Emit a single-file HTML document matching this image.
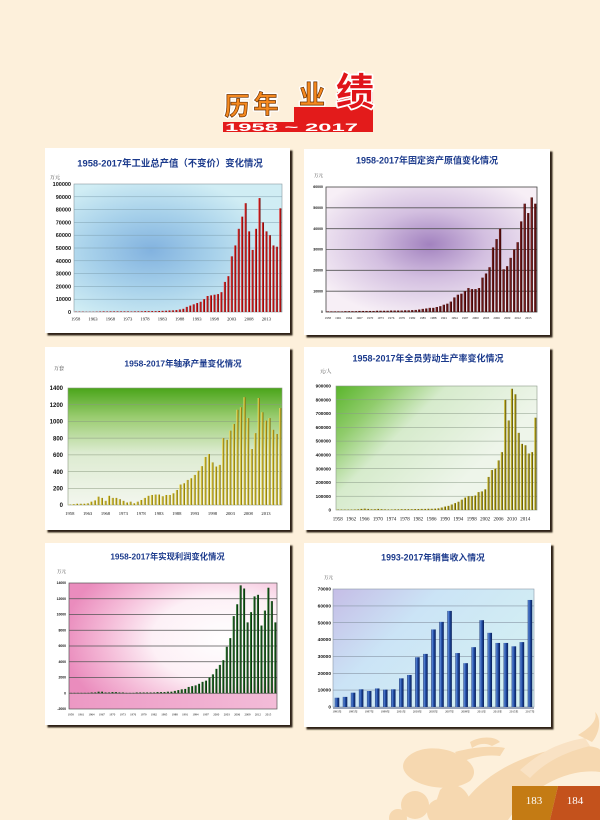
<!DOCTYPE html>
<html><head><meta charset="utf-8">
<style>
html,body{margin:0;padding:0;background:#fdf0db;}
svg{display:block;}
.t{font-family:"Liberation Sans","Noto Sans CJK SC",sans-serif;font-weight:bold;fill:#1b3a8c;text-anchor:middle;}
.u{font-family:"Liberation Serif","Noto Serif CJK SC","Noto Sans CJK SC",serif;fill:#333;}
.y{font-family:"Liberation Sans",sans-serif;font-weight:bold;fill:#111;text-anchor:end;}
.x{font-family:"Liberation Serif",serif;fill:#111;text-anchor:middle;}
</style></head><body>
<svg width="600" height="820" viewBox="0 0 600 820" xmlns="http://www.w3.org/2000/svg">
<defs>
<filter id="sh" x="-5%" y="-5%" width="110%" height="110%"><feGaussianBlur stdDeviation="0.7"/></filter>
<radialGradient id="g1" cx="0.37" cy="0.52" r="0.58"><stop offset="0" stop-color="#82b2df"/><stop offset="0.5" stop-color="#a6d0ea"/><stop offset="1" stop-color="#d0edf4"/></radialGradient>
<radialGradient id="g2" cx="0.49" cy="0.46" r="0.6"><stop offset="0" stop-color="#a282bf"/><stop offset="0.45" stop-color="#d3bfe0"/><stop offset="1" stop-color="#f7eff6"/></radialGradient>
<linearGradient id="g3" x1="0" y1="0" x2="0" y2="1"><stop offset="0" stop-color="#4aa51a"/><stop offset="0.25" stop-color="#9acc70"/><stop offset="0.55" stop-color="#dcebd0"/><stop offset="1" stop-color="#f3f6ee"/></linearGradient>
<linearGradient id="g4" x1="0" y1="0" x2="0.8" y2="0.5"><stop offset="0" stop-color="#5ab52c"/><stop offset="0.25" stop-color="#90cc6c"/><stop offset="0.5" stop-color="#d6ebcc"/><stop offset="1" stop-color="#eef5ea"/></linearGradient>
<radialGradient id="g5" cx="0.75" cy="0.45" r="0.78"><stop offset="0" stop-color="#ffffff"/><stop offset="0.45" stop-color="#fdf0f6"/><stop offset="0.75" stop-color="#f4b8d6"/><stop offset="1" stop-color="#ea8cbd"/></radialGradient>
<linearGradient id="g5b" x1="0" y1="0" x2="1" y2="0"><stop offset="0" stop-color="#ec98c4"/><stop offset="1" stop-color="#f3bcd8"/></linearGradient>
<linearGradient id="g6" x1="0" y1="0" x2="1" y2="0.6"><stop offset="0" stop-color="#c5bde6"/><stop offset="0.4" stop-color="#cbe4f6"/><stop offset="1" stop-color="#d4f0f2"/></linearGradient>
<linearGradient id="bRed" x1="0" y1="0" x2="1" y2="0"><stop offset="0" stop-color="#e86060"/><stop offset="0.35" stop-color="#d02020"/><stop offset="0.7" stop-color="#a00c0c"/><stop offset="1" stop-color="#4a0000"/></linearGradient>
<linearGradient id="bMar" x1="0" y1="0" x2="1" y2="0"><stop offset="0" stop-color="#2a0000"/><stop offset="0.3" stop-color="#8a2a2a"/><stop offset="0.6" stop-color="#5a0a0a"/><stop offset="1" stop-color="#1a0000"/></linearGradient>
<linearGradient id="bYel" x1="0" y1="0" x2="1" y2="0"><stop offset="0" stop-color="#f4e880"/><stop offset="0.45" stop-color="#c8b428"/><stop offset="1" stop-color="#6a5a0a"/></linearGradient>
<linearGradient id="bOli" x1="0" y1="0" x2="1" y2="0"><stop offset="0" stop-color="#ded050"/><stop offset="0.45" stop-color="#a89818"/><stop offset="1" stop-color="#3a3206"/></linearGradient>
<linearGradient id="bGrn" x1="0" y1="0" x2="1" y2="0"><stop offset="0" stop-color="#4a9a4a"/><stop offset="0.45" stop-color="#14501a"/><stop offset="1" stop-color="#062006"/></linearGradient>
<linearGradient id="bBlu" x1="0" y1="0" x2="1" y2="0"><stop offset="0" stop-color="#0c2460"/><stop offset="0.2" stop-color="#5a88d8"/><stop offset="0.55" stop-color="#1e48a0"/><stop offset="1" stop-color="#0a1f55"/></linearGradient>
</defs>
<rect width="600" height="820" fill="#fdf0db"/>

<!-- dragon decoration -->
<g fill="#f6d8b0">
<path d="M455 820 C470 780 520 752 575 746 C590 745 600 748 600 750 L600 772 C570 768 532 785 508 820 Z"/>
<path d="M520 770 C540 752 560 742 585 738 L590 746 C565 752 545 762 530 778 Z" fill="#f9e2c4"/>
<path d="M405 760 C415 746 440 746 455 753 C470 760 480 770 470 781 C455 791 430 789 415 781 C405 775 400 768 405 760 Z"/>
<path d="M455 752 C470 748 490 745 505 748 L500 756 C485 754 470 758 462 762 Z"/>
<path d="M470 742 C480 736 495 736 500 742 L492 746 C485 742 478 744 472 748 Z"/>
<circle cx="415" cy="805" r="14"/><circle cx="440" cy="812" r="13"/><circle cx="398" cy="818" r="9"/>
<path d="M440 790 C450 780 465 785 470 800 C472 810 465 820 460 820 L430 820 Z"/>
<path d="M578 735 C590 728 598 720 595 712 C600 716 602 730 592 742 Z"/>
<path d="M540 795 C555 785 575 790 585 805 C590 812 588 820 585 820 L540 820 Z" fill="#f8dfbf"/>
</g>

<!-- title block -->
<path d="M223 132 L223 122 L294 122 L294 107 L337 107 L337 92 L373 92 L373 132 Z" fill="#e31b1b"/>
<text x="225" y="131" font-family="Liberation Sans, sans-serif" font-weight="bold" font-size="11" fill="#fff" textLength="133" lengthAdjust="spacingAndGlyphs">1958 ~ 2017</text>
<g font-family="Noto Sans CJK SC, sans-serif" font-weight="bold" text-anchor="middle">
<g stroke="#fff" stroke-width="3.5" fill="#fff" stroke-linejoin="round">
<text x="237" y="115" font-size="25">历</text><text x="266" y="113" font-size="25">年</text><text x="312" y="104" font-size="26">业</text><text x="355" y="105" font-size="38">绩</text>
</g>
<g stroke="#6b3000" stroke-width="0.7" fill="#f5891f">
<text x="237" y="115" font-size="25">历</text><text x="266" y="113" font-size="25">年</text><text x="312" y="104" font-size="26">业</text>
</g>
<text x="355" y="105" font-size="38" fill="#e0141a">绩</text>
</g>

<!-- panels -->
<g fill="#2e2016" filter="url(#sh)">
<rect x="47.5" y="150.5" width="245" height="185"/>
<rect x="306.5" y="151.5" width="246" height="186"/>
<rect x="47.5" y="349.5" width="245" height="183"/>
<rect x="306.5" y="349.5" width="246" height="183"/>
<rect x="47.5" y="545.5" width="245" height="182"/>
<rect x="306.5" y="545.5" width="247" height="184"/>
</g>
<g fill="#ffffff">
<rect x="45" y="148" width="245" height="185"/>
<rect x="304" y="149" width="246" height="186"/>
<rect x="45" y="347" width="245" height="183"/>
<rect x="304" y="347" width="246" height="183"/>
<rect x="45" y="543" width="245" height="182"/>
<rect x="304" y="543" width="247" height="184"/>
</g>

<!-- ============ CHART 1 ============ -->
<text class="t" x="170" y="166.5" font-size="9.4">1958-2017年工业总产值（不变价）变化情况</text>
<text class="u" x="50" y="179" font-size="5">万元</text>
<rect x="74" y="184" width="208" height="128" fill="url(#g1)" stroke="#8a9aa0" stroke-width="0.6"/>
<g stroke="#7fa0b0" stroke-width="0.5">
<line x1="74" x2="282" y1="196.8" y2="196.8"/><line x1="74" x2="282" y1="209.6" y2="209.6"/><line x1="74" x2="282" y1="222.4" y2="222.4"/><line x1="74" x2="282" y1="235.2" y2="235.2"/><line x1="74" x2="282" y1="248" y2="248"/><line x1="74" x2="282" y1="260.8" y2="260.8"/><line x1="74" x2="282" y1="273.6" y2="273.6"/><line x1="74" x2="282" y1="286.4" y2="286.4"/><line x1="74" x2="282" y1="299.2" y2="299.2"/>
</g>
<g class="y" font-size="5.5">
<text x="71" y="186">100000</text><text x="71" y="198.8">90000</text><text x="71" y="211.6">80000</text><text x="71" y="224.4">70000</text><text x="71" y="237.2">60000</text><text x="71" y="250">50000</text><text x="71" y="262.8">40000</text><text x="71" y="275.6">30000</text><text x="71" y="288.4">20000</text><text x="71" y="301.2">10000</text><text x="71" y="314">0</text>
</g>
<g class="x" font-size="4.6">
<text x="75.7" y="320.5">1958</text><text x="93" y="320.5">1963</text><text x="110.4" y="320.5">1968</text><text x="127.7" y="320.5">1973</text><text x="145" y="320.5">1978</text><text x="162.3" y="320.5">1983</text><text x="179.7" y="320.5">1988</text><text x="197" y="320.5">1993</text><text x="214.3" y="320.5">1998</text><text x="231.7" y="320.5">2003</text><text x="249" y="320.5">2008</text><text x="266.3" y="320.5">2013</text>
</g>
<g transform="translate(74,312) scale(3.4667,-1.28) translate(0.2,0)" fill="url(#bRed)">
<rect x="0" width=".6" height=".3"/><rect x="1" width=".6" height=".3"/><rect x="2" width=".6" height=".3"/><rect x="3" width=".6" height=".2"/><rect x="4" width=".6" height=".2"/><rect x="5" width=".6" height=".2"/><rect x="6" width=".6" height=".3"/><rect x="7" width=".6" height=".4"/><rect x="8" width=".6" height=".5"/><rect x="9" width=".6" height=".4"/>
<rect x="10" width=".6" height=".5"/><rect x="11" width=".6" height=".5"/><rect x="12" width=".6" height=".5"/><rect x="13" width=".6" height=".5"/><rect x="14" width=".6" height=".5"/><rect x="15" width=".6" height=".5"/><rect x="16" width=".6" height=".4"/><rect x="17" width=".6" height=".5"/><rect x="18" width=".6" height=".5"/><rect x="19" width=".6" height=".6"/>
<rect x="20" width=".6" height=".7"/><rect x="21" width=".6" height=".7"/><rect x="22" width=".6" height=".7"/><rect x="23" width=".6" height=".7"/><rect x="24" width=".6" height=".8"/><rect x="25" width=".6" height=".9"/><rect x="26" width=".6" height="1"/><rect x="27" width=".6" height="1.2"/><rect x="28" width=".6" height="1.3"/><rect x="29" width=".6" height="1.5"/>
<rect x="30" width=".6" height="2"/><rect x="31" width=".6" height="2.5"/><rect x="32" width=".6" height="4"/><rect x="33" width=".6" height="5"/><rect x="34" width=".6" height="6"/><rect x="35" width=".6" height="7"/><rect x="36" width=".6" height="8"/><rect x="37" width=".6" height="10"/><rect x="38" width=".6" height="12.5"/><rect x="39" width=".6" height="13"/>
<rect x="40" width=".6" height="13.5"/><rect x="41" width=".6" height="14"/><rect x="42" width=".6" height="15.5"/><rect x="43" width=".6" height="23.5"/><rect x="44" width=".6" height="28"/><rect x="45" width=".6" height="43.5"/><rect x="46" width=".6" height="52"/><rect x="47" width=".6" height="65"/><rect x="48" width=".6" height="74.5"/><rect x="49" width=".6" height="85"/>
<rect x="50" width=".6" height="63"/><rect x="51" width=".6" height="48.5"/><rect x="52" width=".6" height="65"/><rect x="53" width=".6" height="89"/><rect x="54" width=".6" height="70"/><rect x="55" width=".6" height="63"/><rect x="56" width=".6" height="60"/><rect x="57" width=".6" height="52"/><rect x="58" width=".6" height="51"/><rect x="59" width=".6" height="81"/>
</g>

<!-- ============ CHART 2 ============ -->
<text class="t" x="427" y="163.5" font-size="9">1958-2017年固定资产原值变化情况</text>
<text class="u" x="314" y="177" font-size="4.5">万元</text>
<rect x="326" y="187" width="211" height="125" fill="url(#g2)" stroke="#444" stroke-width="0.8"/>
<g stroke="#555" stroke-width="0.8">
<line x1="326" x2="537" y1="207.8" y2="207.8"/><line x1="326" x2="537" y1="228.7" y2="228.7"/><line x1="326" x2="537" y1="249.5" y2="249.5"/><line x1="326" x2="537" y1="270.3" y2="270.3"/><line x1="326" x2="537" y1="291.2" y2="291.2"/>
</g>
<g class="y" font-size="3.5">
<text x="323" y="188.2">60000</text><text x="323" y="209">50000</text><text x="323" y="229.9">40000</text><text x="323" y="250.7">30000</text><text x="323" y="271.5">20000</text><text x="323" y="292.4">10000</text><text x="323" y="313.2">0</text>
</g>
<g class="x" font-size="3.2">
<text x="327.8" y="319">1958</text><text x="338.3" y="319">1961</text><text x="348.9" y="319">1964</text><text x="359.4" y="319">1967</text><text x="370" y="319">1970</text><text x="380.5" y="319">1973</text><text x="391.1" y="319">1976</text><text x="401.7" y="319">1979</text><text x="412.2" y="319">1982</text><text x="422.8" y="319">1985</text><text x="433.3" y="319">1988</text><text x="443.8" y="319">1991</text><text x="454.4" y="319">1994</text><text x="465" y="319">1997</text><text x="475.5" y="319">2000</text><text x="486" y="319">2003</text><text x="496.6" y="319">2006</text><text x="507.2" y="319">2009</text><text x="517.7" y="319">2012</text><text x="528.3" y="319">2015</text>
</g>
<g transform="translate(326,312) scale(3.5167,-2.0833) translate(0.18,0)" fill="url(#bMar)">
<rect x="0" width=".64" height=".3"/><rect x="1" width=".64" height=".3"/><rect x="2" width=".64" height=".3"/><rect x="3" width=".64" height=".3"/><rect x="4" width=".64" height=".3"/><rect x="5" width=".64" height=".4"/><rect x="6" width=".64" height=".4"/><rect x="7" width=".64" height=".4"/><rect x="8" width=".64" height=".4"/><rect x="9" width=".64" height=".5"/>
<rect x="10" width=".64" height=".5"/><rect x="11" width=".64" height=".5"/><rect x="12" width=".64" height=".5"/><rect x="13" width=".64" height=".5"/><rect x="14" width=".64" height=".6"/><rect x="15" width=".64" height=".6"/><rect x="16" width=".64" height=".6"/><rect x="17" width=".64" height=".6"/><rect x="18" width=".64" height=".7"/><rect x="19" width=".64" height=".7"/>
<rect x="20" width=".64" height=".7"/><rect x="21" width=".64" height=".7"/><rect x="22" width=".64" height=".8"/><rect x="23" width=".64" height=".8"/><rect x="24" width=".64" height=".9"/><rect x="25" width=".64" height="1"/><rect x="26" width=".64" height="1.2"/><rect x="27" width=".64" height="1.5"/><rect x="28" width=".64" height="1.7"/><rect x="29" width=".64" height="2"/>
<rect x="30" width=".64" height="2"/><rect x="31" width=".64" height="2.4"/><rect x="32" width=".64" height="2.8"/><rect x="33" width=".64" height="3.5"/><rect x="34" width=".64" height="4"/><rect x="35" width=".64" height="5"/><rect x="36" width=".64" height="7"/><rect x="37" width=".64" height="8.3"/><rect x="38" width=".64" height="8.8"/><rect x="39" width=".64" height="10"/>
<rect x="40" width=".64" height="11.5"/><rect x="41" width=".64" height="11"/><rect x="42" width=".64" height="11"/><rect x="43" width=".64" height="11.5"/><rect x="44" width=".64" height="16.5"/><rect x="45" width=".64" height="18.5"/><rect x="46" width=".64" height="21.5"/><rect x="47" width=".64" height="31"/><rect x="48" width=".64" height="35"/><rect x="49" width=".64" height="40"/>
<rect x="50" width=".64" height="20.5"/><rect x="51" width=".64" height="22"/><rect x="52" width=".64" height="26"/><rect x="53" width=".64" height="30"/><rect x="54" width=".64" height="33.5"/><rect x="55" width=".64" height="43.5"/><rect x="56" width=".64" height="52"/><rect x="57" width=".64" height="47.5"/><rect x="58" width=".64" height="55"/><rect x="59" width=".64" height="52"/>
</g>

<!-- ============ CHART 3 ============ -->
<text class="t" x="183" y="366.5" font-size="8.5">1958-2017年轴承产量变化情况</text>
<text class="u" x="54" y="370" font-size="5">万套</text>
<rect x="68" y="388" width="214" height="117" fill="url(#g3)" stroke="#8a9a80" stroke-width="0.6"/>
<g stroke="#8a9a80" stroke-width="0.5">
<line x1="68" x2="282" y1="404.7" y2="404.7"/><line x1="68" x2="282" y1="421.4" y2="421.4"/><line x1="68" x2="282" y1="438.1" y2="438.1"/><line x1="68" x2="282" y1="454.9" y2="454.9"/><line x1="68" x2="282" y1="471.6" y2="471.6"/><line x1="68" x2="282" y1="488.3" y2="488.3"/>
</g>
<g class="y" font-size="6">
<text x="63" y="390.2">1400</text><text x="63" y="406.9">1200</text><text x="63" y="423.6">1000</text><text x="63" y="440.3">800</text><text x="63" y="457.1">600</text><text x="63" y="473.8">400</text><text x="63" y="490.5">200</text><text x="63" y="507.2">0</text>
</g>
<g class="x" font-size="4.6">
<text x="69.8" y="515">1958</text><text x="87.6" y="515">1963</text><text x="105.5" y="515">1968</text><text x="123.3" y="515">1973</text><text x="141.1" y="515">1978</text><text x="159" y="515">1983</text><text x="176.8" y="515">1988</text><text x="194.6" y="515">1993</text><text x="212.5" y="515">1998</text><text x="230.3" y="515">2003</text><text x="248.2" y="515">2008</text><text x="266" y="515">2013</text>
</g>
<g transform="translate(68,505) scale(3.5667,-0.083571) translate(0.2,0)" fill="url(#bYel)">
<rect x="0" width=".6" height="5"/><rect x="1" width=".6" height="10"/><rect x="2" width=".6" height="15"/><rect x="3" width=".6" height="15"/><rect x="4" width=".6" height="15"/><rect x="5" width=".6" height="20"/><rect x="6" width=".6" height="40"/><rect x="7" width=".6" height="55"/><rect x="8" width=".6" height="100"/><rect x="9" width=".6" height="85"/>
<rect x="10" width=".6" height="50"/><rect x="11" width=".6" height="110"/><rect x="12" width=".6" height="85"/><rect x="13" width=".6" height="85"/><rect x="14" width=".6" height="70"/><rect x="15" width=".6" height="50"/><rect x="16" width=".6" height="30"/><rect x="17" width=".6" height="40"/><rect x="18" width=".6" height="20"/><rect x="19" width=".6" height="40"/>
<rect x="20" width=".6" height="60"/><rect x="21" width=".6" height="85"/><rect x="22" width=".6" height="110"/><rect x="23" width=".6" height="120"/><rect x="24" width=".6" height="125"/><rect x="25" width=".6" height="125"/><rect x="26" width=".6" height="105"/><rect x="27" width=".6" height="120"/><rect x="28" width=".6" height="120"/><rect x="29" width=".6" height="140"/>
<rect x="30" width=".6" height="180"/><rect x="31" width=".6" height="245"/><rect x="32" width=".6" height="260"/><rect x="33" width=".6" height="300"/><rect x="34" width=".6" height="320"/><rect x="35" width=".6" height="360"/><rect x="36" width=".6" height="410"/><rect x="37" width=".6" height="465"/><rect x="38" width=".6" height="575"/><rect x="39" width=".6" height="610"/>
<rect x="40" width=".6" height="510"/><rect x="41" width=".6" height="460"/><rect x="42" width=".6" height="480"/><rect x="43" width=".6" height="800"/><rect x="44" width=".6" height="780"/><rect x="45" width=".6" height="890"/><rect x="46" width=".6" height="970"/><rect x="47" width=".6" height="1140"/><rect x="48" width=".6" height="1170"/><rect x="49" width=".6" height="1290"/>
<rect x="50" width=".6" height="1040"/><rect x="51" width=".6" height="670"/><rect x="52" width=".6" height="860"/><rect x="53" width=".6" height="1280"/><rect x="54" width=".6" height="1110"/><rect x="55" width=".6" height="1010"/><rect x="56" width=".6" height="1040"/><rect x="57" width=".6" height="900"/><rect x="58" width=".6" height="850"/><rect x="59" width=".6" height="1160"/>
</g>

<!-- ============ CHART 4 ============ -->
<text class="t" x="428" y="361.5" font-size="9">1958-2017年全员劳动生产率变化情况</text>
<text class="u" x="320" y="373" font-size="5">元/人</text>
<rect x="336" y="386" width="201" height="124" fill="url(#g4)" stroke="#8a9a88" stroke-width="0.6"/>
<g stroke="#8a9a88" stroke-width="0.5">
<line x1="336" x2="537" y1="399.8" y2="399.8"/><line x1="336" x2="537" y1="413.6" y2="413.6"/><line x1="336" x2="537" y1="427.3" y2="427.3"/><line x1="336" x2="537" y1="441.1" y2="441.1"/><line x1="336" x2="537" y1="454.9" y2="454.9"/><line x1="336" x2="537" y1="468.7" y2="468.7"/><line x1="336" x2="537" y1="482.4" y2="482.4"/><line x1="336" x2="537" y1="496.2" y2="496.2"/>
</g>
<g class="y" font-size="4.6">
<text x="331" y="387.6">900000</text><text x="331" y="401.4">800000</text><text x="331" y="415.2">700000</text><text x="331" y="428.9">600000</text><text x="331" y="442.7">500000</text><text x="331" y="456.5">400000</text><text x="331" y="470.3">300000</text><text x="331" y="484">200000</text><text x="331" y="497.8">100000</text><text x="331" y="511.6">0</text>
</g>
<g class="x" font-size="5">
<text x="337.7" y="520.5">1958</text><text x="351.1" y="520.5">1962</text><text x="364.5" y="520.5">1966</text><text x="377.9" y="520.5">1970</text><text x="391.3" y="520.5">1974</text><text x="404.7" y="520.5">1978</text><text x="418.1" y="520.5">1982</text><text x="431.5" y="520.5">1986</text><text x="444.9" y="520.5">1990</text><text x="458.3" y="520.5">1994</text><text x="471.7" y="520.5">1998</text><text x="485.1" y="520.5">2002</text><text x="498.5" y="520.5">2006</text><text x="511.9" y="520.5">2010</text><text x="525.3" y="520.5">2014</text>
</g>
<g transform="translate(336,510) scale(3.35,-0.13778) translate(0.18,0)" fill="url(#bOli)">
<rect x="0" width=".64" height="3"/><rect x="1" width=".64" height="3"/><rect x="2" width=".64" height="3"/><rect x="3" width=".64" height="3"/><rect x="4" width=".64" height="3"/><rect x="5" width=".64" height="4"/><rect x="6" width=".64" height="5"/><rect x="7" width=".64" height="8"/><rect x="8" width=".64" height="10"/><rect x="9" width=".64" height="8"/>
<rect x="10" width=".64" height="5"/><rect x="11" width=".64" height="6"/><rect x="12" width=".64" height="8"/><rect x="13" width=".64" height="6"/><rect x="14" width=".64" height="5"/><rect x="15" width=".64" height="4"/><rect x="16" width=".64" height="4"/><rect x="17" width=".64" height="5"/><rect x="18" width=".64" height="5"/><rect x="19" width=".64" height="6"/>
<rect x="20" width=".64" height="6"/><rect x="21" width=".64" height="6"/><rect x="22" width=".64" height="6"/><rect x="23" width=".64" height="7"/><rect x="24" width=".64" height="7"/><rect x="25" width=".64" height="8"/><rect x="26" width=".64" height="8"/><rect x="27" width=".64" height="9"/><rect x="28" width=".64" height="9"/><rect x="29" width=".64" height="10"/>
<rect x="30" width=".64" height="12"/><rect x="31" width=".64" height="18"/><rect x="32" width=".64" height="25"/><rect x="33" width=".64" height="30"/><rect x="34" width=".64" height="40"/><rect x="35" width=".64" height="50"/><rect x="36" width=".64" height="60"/><rect x="37" width=".64" height="75"/><rect x="38" width=".64" height="90"/><rect x="39" width=".64" height="100"/>
<rect x="40" width=".64" height="100"/><rect x="41" width=".64" height="105"/><rect x="42" width=".64" height="130"/><rect x="43" width=".64" height="135"/><rect x="44" width=".64" height="150"/><rect x="45" width=".64" height="240"/><rect x="46" width=".64" height="290"/><rect x="47" width=".64" height="300"/><rect x="48" width=".64" height="360"/><rect x="49" width=".64" height="420"/>
<rect x="50" width=".64" height="800"/><rect x="51" width=".64" height="650"/><rect x="52" width=".64" height="880"/><rect x="53" width=".64" height="840"/><rect x="54" width=".64" height="560"/><rect x="55" width=".64" height="480"/><rect x="56" width=".64" height="470"/><rect x="57" width=".64" height="410"/><rect x="58" width=".64" height="420"/><rect x="59" width=".64" height="670"/>
</g>

<!-- ============ CHART 5 ============ -->
<text class="t" x="167.5" y="559.5" font-size="8.3">1958-2017年实现利润变化情况</text>
<text class="u" x="57" y="573" font-size="4.5">万元</text>
<rect x="69" y="583" width="208" height="126" fill="url(#g5)"/>
<rect x="69" y="693.25" width="208" height="15.75" fill="url(#g5b)"/>
<rect x="69" y="583" width="208" height="126" fill="none" stroke="#555" stroke-width="0.7"/>
<g stroke="#555" stroke-width="0.7">
<line x1="69" x2="277" y1="598.75" y2="598.75"/><line x1="69" x2="277" y1="614.5" y2="614.5"/><line x1="69" x2="277" y1="630.25" y2="630.25"/><line x1="69" x2="277" y1="646" y2="646"/><line x1="69" x2="277" y1="661.75" y2="661.75"/><line x1="69" x2="277" y1="677.5" y2="677.5"/><line x1="69" x2="277" y1="693.25" y2="693.25"/>
</g>
<g class="y" font-size="3.4">
<text x="66" y="584.2">14000</text><text x="66" y="600">12000</text><text x="66" y="615.7">10000</text><text x="66" y="631.5">8000</text><text x="66" y="647.2">6000</text><text x="66" y="663">4000</text><text x="66" y="678.7">2000</text><text x="66" y="694.5">0</text><text x="66" y="710.2">-2000</text>
</g>
<g class="x" font-size="3">
<text x="70.7" y="715.5">1958</text><text x="81.1" y="715.5">1961</text><text x="91.5" y="715.5">1964</text><text x="101.9" y="715.5">1967</text><text x="112.3" y="715.5">1970</text><text x="122.7" y="715.5">1973</text><text x="133.1" y="715.5">1976</text><text x="143.5" y="715.5">1979</text><text x="153.9" y="715.5">1982</text><text x="164.3" y="715.5">1985</text><text x="174.7" y="715.5">1988</text><text x="185.1" y="715.5">1991</text><text x="195.5" y="715.5">1994</text><text x="205.9" y="715.5">1997</text><text x="216.3" y="715.5">2000</text><text x="226.7" y="715.5">2003</text><text x="237.1" y="715.5">2006</text><text x="247.5" y="715.5">2009</text><text x="257.9" y="715.5">2012</text><text x="268.3" y="715.5">2015</text>
</g>
<g transform="translate(69,693.25) scale(3.4667,-7.875) translate(0.2,0)" fill="url(#bGrn)">
<rect x="0" width=".6" height=".05"/><rect x="1" width=".6" height=".05"/><rect x="2" width=".6" height=".05"/><rect x="3" width=".6" height=".05"/><rect x="4" width=".6" height=".05"/><rect x="5" width=".6" height=".05"/><rect x="6" width=".6" height=".1"/><rect x="7" width=".6" height=".1"/><rect x="8" width=".6" height=".2"/><rect x="9" width=".6" height=".2"/>
<rect x="10" width=".6" height=".1"/><rect x="11" width=".6" height=".1"/><rect x="12" width=".6" height=".15"/><rect x="13" width=".6" height=".15"/><rect x="14" width=".6" height=".1"/><rect x="15" width=".6" height=".1"/><rect x="16" width=".6" height=".05"/><rect x="17" width=".6" height=".05"/><rect x="18" width=".6" height=".05"/><rect x="19" width=".6" height=".1"/>
<rect x="20" width=".6" height=".1"/><rect x="21" width=".6" height=".1"/><rect x="22" width=".6" height=".1"/><rect x="23" width=".6" height=".1"/><rect x="24" width=".6" height=".1"/><rect x="25" width=".6" height=".15"/><rect x="26" width=".6" height=".15"/><rect x="27" width=".6" height=".15"/><rect x="28" width=".6" height=".2"/><rect x="29" width=".6" height=".2"/>
<rect x="30" width=".6" height=".3"/><rect x="31" width=".6" height=".4"/><rect x="32" width=".6" height=".5"/><rect x="33" width=".6" height=".55"/><rect x="34" width=".6" height=".8"/><rect x="35" width=".6" height=".9"/><rect x="36" width=".6" height="1"/><rect x="37" width=".6" height="1.2"/><rect x="38" width=".6" height="1.45"/><rect x="39" width=".6" height="1.6"/>
<rect x="40" width=".6" height="2"/><rect x="41" width=".6" height="2.4"/><rect x="42" width=".6" height="3.1"/><rect x="43" width=".6" height="3.6"/><rect x="44" width=".6" height="4.2"/><rect x="45" width=".6" height="5.9"/><rect x="46" width=".6" height="7"/><rect x="47" width=".6" height="9.8"/><rect x="48" width=".6" height="11.3"/><rect x="49" width=".6" height="13.7"/>
<rect x="50" width=".6" height="13.3"/><rect x="51" width=".6" height="9"/><rect x="52" width=".6" height="10.3"/><rect x="53" width=".6" height="12.3"/><rect x="54" width=".6" height="12.5"/><rect x="55" width=".6" height="8.6"/><rect x="56" width=".6" height="10.5"/><rect x="57" width=".6" height="13.4"/><rect x="58" width=".6" height="11.7"/><rect x="59" width=".6" height="9"/>
</g>

<!-- ============ CHART 6 ============ -->
<text class="t" x="433" y="560.5" font-size="8.8">1993-2017年销售收入情况</text>
<text class="u" x="324" y="579" font-size="4.5">万元</text>
<rect x="333" y="589" width="201" height="118" fill="url(#g6)" stroke="#8a98a8" stroke-width="0.6"/>
<rect x="333" y="707" width="201" height="2" fill="#9aa4b8"/>
<g stroke="#8a98a8" stroke-width="0.6">
<line x1="333" x2="534" y1="605.9" y2="605.9"/><line x1="333" x2="534" y1="622.7" y2="622.7"/><line x1="333" x2="534" y1="639.6" y2="639.6"/><line x1="333" x2="534" y1="656.4" y2="656.4"/><line x1="333" x2="534" y1="673.3" y2="673.3"/><line x1="333" x2="534" y1="690.1" y2="690.1"/>
</g>
<g class="y" font-size="4.8">
<text x="331" y="590.6">70000</text><text x="331" y="607.5">60000</text><text x="331" y="624.3">50000</text><text x="331" y="641.2">40000</text><text x="331" y="658">30000</text><text x="331" y="674.9">20000</text><text x="331" y="691.7">10000</text><text x="331" y="708.6">0</text>
</g>
<g class="x" font-size="3" style="font-family:'Liberation Serif','Noto Serif CJK SC',serif">
<text x="337" y="712.5">1993年</text><text x="353.1" y="712.5">1995年</text><text x="369.2" y="712.5">1997年</text><text x="385.2" y="712.5">1999年</text><text x="401.3" y="712.5">2001年</text><text x="417.4" y="712.5">2003年</text><text x="433.5" y="712.5">2005年</text><text x="449.6" y="712.5">2007年</text><text x="465.6" y="712.5">2009年</text><text x="481.7" y="712.5">2011年</text><text x="497.8" y="712.5">2013年</text><text x="513.9" y="712.5">2015年</text><text x="530" y="712.5">2017年</text>
</g>
<g transform="translate(333,707) scale(8.04,-1.6857) translate(0.22,0)" fill="url(#bBlu)">
<rect x="0" width=".56" height="5.5"/><rect x="1" width=".56" height="6"/><rect x="2" width=".56" height="8.5"/><rect x="3" width=".56" height="10.5"/><rect x="4" width=".56" height="9.5"/><rect x="5" width=".56" height="11"/><rect x="6" width=".56" height="10.3"/><rect x="7" width=".56" height="10.5"/><rect x="8" width=".56" height="17"/><rect x="9" width=".56" height="19"/>
<rect x="10" width=".56" height="29.5"/><rect x="11" width=".56" height="31.5"/><rect x="12" width=".56" height="46"/><rect x="13" width=".56" height="50.5"/><rect x="14" width=".56" height="57"/><rect x="15" width=".56" height="32"/><rect x="16" width=".56" height="26"/><rect x="17" width=".56" height="35.5"/><rect x="18" width=".56" height="51.5"/><rect x="19" width=".56" height="44"/>
<rect x="20" width=".56" height="38"/><rect x="21" width=".56" height="38"/><rect x="22" width=".56" height="36"/><rect x="23" width=".56" height="38.5"/><rect x="24" width=".56" height="63.5"/>
</g>

<!-- page numbers -->
<path d="M512 786 L558 786 L550 820 L512 820 Z" fill="#c47b14"/>
<path d="M558 786 L600 786 L600 820 L550 820 Z" fill="#c4521c"/>
<g font-family="Liberation Serif, serif" font-size="11" fill="#fff" text-anchor="middle">
<text x="534" y="804">183</text><text x="575" y="804">184</text>
</g>
</svg>
</body></html>
